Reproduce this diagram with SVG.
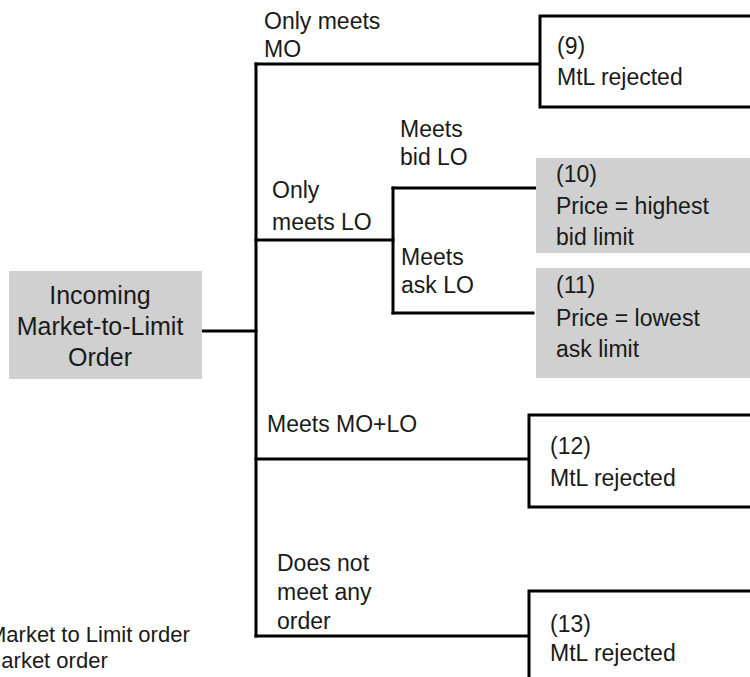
<svg xmlns="http://www.w3.org/2000/svg" width="750" height="677" viewBox="0 0 750 677">
<style>
text{font-family:"Liberation Sans",Arial,sans-serif;font-size:23px;fill:#1a1a1a}
.c{text-anchor:middle;font-size:25px}
.lg{font-size:22px}
.box{fill:#fff;stroke:#000;stroke-width:3}
.gray{fill:#d0d0d0;stroke:none}
.ln{stroke:#000;stroke-width:3;fill:none;stroke-linecap:square}
</style>
<rect width="750" height="677" fill="#fff"/>
<g id="connectors">
<path class="ln" d="M202 331H256"/>
<path class="ln" d="M256 64V636"/>
<path class="ln" d="M256 64H540"/>
<path class="ln" d="M256 240H393"/>
<path class="ln" d="M393 188V313"/>
<path class="ln" d="M393 188H536"/>
<path class="ln" d="M393 313H533"/>
<path class="ln" d="M256 459H529"/>
<path class="ln" d="M256 636H529"/>
<text x="264" y="29">Only meets</text>
<text x="264" y="57">MO</text>
<text x="400" y="137">Meets</text>
<text x="400" y="165">bid LO</text>
<text x="272" y="198">Only</text>
<text x="272" y="230">meets LO</text>
<text x="401" y="265">Meets</text>
<text x="401" y="293">ask LO</text>
<text x="267" y="432">Meets MO+LO</text>
<text x="277" y="571">Does not</text>
<text x="277" y="600">meet any</text>
<text x="277" y="629">order</text>
</g>
<g id="n-incoming">
<rect class="gray" x="9" y="271" width="193" height="108"/>
<text class="c" x="100" y="304">Incoming</text>
<text class="c" x="100" y="335">Market-to-Limit</text>
<text class="c" x="100" y="366">Order</text>
</g>
<g id="n9">
<rect class="box" x="540" y="16" width="230" height="91"/>
<text x="557" y="54">(9)</text>
<text x="557" y="85">MtL rejected</text>
</g>
<g id="n10">
<rect class="gray" x="536" y="158" width="230" height="95"/>
<text x="556" y="182">(10)</text>
<text x="556" y="214">Price = highest</text>
<text x="556" y="245">bid limit</text>
</g>
<g id="n11">
<rect class="gray" x="536" y="268" width="230" height="110"/>
<text x="556" y="293">(11)</text>
<text x="556" y="326">Price = lowest</text>
<text x="556" y="357">ask limit</text>
</g>
<g id="n12">
<rect class="box" x="529" y="415" width="240" height="92"/>
<text x="550" y="454">(12)</text>
<text x="550" y="486">MtL rejected</text>
</g>
<g id="n13">
<rect class="box" x="529" y="591" width="240" height="120"/>
<text x="550" y="632">(13)</text>
<text x="550" y="661">MtL rejected</text>
</g>
<g id="legend">
<text class="lg" x="-12" y="642">Market to Limit order</text>
<text class="lg" x="-17" y="668">Market order</text>
</g>
</svg>
